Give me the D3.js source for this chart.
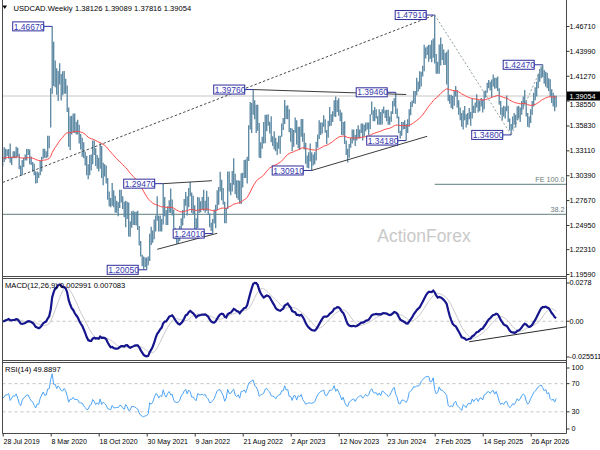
<!DOCTYPE html>
<html>
<head>
<meta charset="utf-8">
<script src="https://cdn.jsdelivr.net/npm/d3@7"></script>
<style>
  body { margin: 0; background: #fff; }
  svg { display: block; }
  text { font-family: "Liberation Sans", Arial, sans-serif; }
</style>
</head>
<body>
<svg id="chart" width="600" height="450"></svg>
<script>
// weekly USDCAD bars, first bar = week of 28 Jul 2019
const highs = [
  1.3240,1.3345,1.3330,1.3320,1.3325,1.3385,1.3240,1.3300,1.3300,1.3350,
  1.3340,1.3275,1.3145,1.3205,1.3230,1.3265,1.3325,1.3325,1.3320,1.3245,
  1.3185,1.3165,1.3080,1.3080,1.3070,1.3200,1.3240,1.3330,1.3330,1.3300,
  1.3470,1.3470,1.3990,1.4667,1.4500,1.4295,1.4210,1.4180,1.4265,1.4145,
  1.4175,1.4180,1.4095,1.4020,1.3780,1.3685,1.3690,1.3715,1.3715,1.3625,
  1.3645,1.3590,1.3490,1.3450,1.3400,1.3295,1.3250,1.3160,1.3260,1.3265,
  1.3420,1.3420,1.3335,1.3260,1.3230,1.3390,1.3360,1.3175,1.3160,1.3145,
  1.3010,1.2860,1.2790,1.2955,1.2875,1.2815,1.2760,1.2745,1.2880,1.2880,
  1.2810,1.2750,1.2760,1.2750,1.2740,1.2535,1.2645,1.2650,1.2640,1.2640,
  1.2650,1.2485,1.2320,1.2170,1.2150,1.2140,1.2140,1.2150,1.2400,1.2475,
  1.2435,1.2555,1.2600,1.2810,1.2595,1.2600,1.2560,1.2947,1.2800,1.2660,
  1.2700,1.2765,1.2895,1.2775,1.2665,1.2465,1.2395,1.2425,1.2485,1.2570,
  1.2660,1.2780,1.2855,1.2810,1.2900,1.2964,1.2850,1.2815,1.2710,1.2570,
  1.2800,1.2795,1.2755,1.2800,1.2880,1.2760,1.2870,1.2805,1.2620,1.2520,
  1.2560,1.2665,1.2715,1.2875,1.2910,1.3076,1.2990,1.2900,1.2750,1.2680,
  1.3080,1.3080,1.2955,1.3085,1.3225,1.3055,1.2985,1.2985,1.2980,1.3060,
  1.3065,1.3205,1.3210,1.3240,1.3585,1.3840,1.3830,1.3976,1.3860,1.3810,
  1.3810,1.3610,1.3400,1.3460,1.3620,1.3700,1.3700,1.3705,1.3625,1.3685,
  1.3465,1.3520,1.3450,1.3400,1.3470,1.3470,1.3605,1.3665,1.3862,1.3800,
  1.3805,1.3760,1.3555,1.3550,1.3535,1.3670,1.3640,1.3570,1.3570,1.3655,
  1.3655,1.3500,1.3395,1.3255,1.3290,1.3385,1.3290,1.3265,1.3290,1.3405,
  1.3485,1.3640,1.3615,1.3615,1.3695,1.3650,1.3535,1.3635,1.3785,1.3705,
  1.3740,1.3860,1.3900,1.3860,1.3880,1.3755,1.3725,1.3620,1.3630,1.3420,
  1.3330,1.3380,1.3445,1.3540,1.3540,1.3480,1.3545,1.3585,1.3540,1.3605,
  1.3605,1.3590,1.3615,1.3615,1.3615,1.3705,1.3846,1.3750,1.3785,1.3760,
  1.3685,1.3760,1.3730,1.3760,1.3790,1.3750,1.3755,1.3755,1.3680,1.3740,
  1.3850,1.3880,1.3946,1.3770,1.3680,1.3525,1.3620,1.3620,1.3640,1.3600,
  1.3650,1.3760,1.3840,1.3855,1.3960,1.3960,1.4105,1.4065,1.4177,1.4170,
  1.4235,1.4467,1.4435,1.4450,1.4465,1.4465,1.4515,1.4535,1.4791,1.4365,
  1.4280,1.4470,1.4545,1.4475,1.4415,1.4375,1.4390,1.4415,1.3920,1.3920,
  1.3905,1.3960,1.4015,1.3970,1.3860,1.3780,1.3720,1.3750,1.3795,1.3705,
  1.3720,1.3775,1.3730,1.3880,1.3800,1.3835,1.3925,1.3860,1.3855,1.3885,
  1.3870,1.3960,1.3965,1.4050,1.4080,1.4060,1.4085,1.4140,1.4105,1.4105,
  1.4120,1.3990,1.3850,1.3780,1.3800,1.3790,1.3910,1.3800,1.3660,1.3600,
  1.3680,1.3720,1.3700,1.3790,1.3800,1.3780,1.3850,1.3900,1.3970,1.3860,
  1.3720,1.3680,1.3760,1.3850,1.3940,1.4000,1.4060,1.4150,1.4200,1.4230,
  1.4247,1.4190,1.4170,1.4160,1.4100,1.4090,1.3980,1.3940,1.3910,1.39089
];
const lows = [
  1.3135,1.3185,1.3210,1.3250,1.3220,1.3175,1.3150,1.3225,1.3225,1.3225,
  1.3240,1.3105,1.3040,1.3040,1.3130,1.3200,1.3200,1.3260,1.3160,1.3150,
  1.3080,1.3040,1.2950,1.2955,1.3010,1.3040,1.3080,1.3220,1.3230,1.3225,
  1.3235,1.3335,1.3560,1.3930,1.4015,1.4000,1.3920,1.3850,1.4030,1.3855,
  1.3915,1.3930,1.3930,1.3730,1.3350,1.3315,1.3485,1.3505,1.3500,1.3485,
  1.3485,1.3385,1.3320,1.3240,1.3225,1.3145,1.3040,1.2995,1.3040,1.3090,
  1.3160,1.3260,1.3140,1.3110,1.3080,1.3110,1.3010,1.2930,1.3025,1.2950,
  1.2770,1.2700,1.2690,1.2705,1.2690,1.2630,1.2630,1.2590,1.2680,1.2740,
  1.2670,1.2580,1.2470,1.2560,1.2370,1.2365,1.2465,1.2495,1.2495,1.2490,
  1.2440,1.2270,1.2150,1.2045,1.2010,1.2035,1.2005,1.2055,1.2100,1.2275,
  1.2300,1.2340,1.2425,1.2540,1.2425,1.2425,1.2425,1.2500,1.2590,1.2495,
  1.2495,1.2630,1.2625,1.2600,1.2460,1.2340,1.2290,1.2290,1.2320,1.2385,
  1.2490,1.2570,1.2705,1.2600,1.2690,1.2810,1.2630,1.2615,1.2450,1.2450,
  1.2460,1.2625,1.2635,1.2665,1.2650,1.2630,1.2650,1.2605,1.2470,1.2430,
  1.2401,1.2510,1.2460,1.2660,1.2715,1.2860,1.2765,1.2720,1.2515,1.2515,
  1.2670,1.2860,1.2820,1.2860,1.2935,1.2830,1.2790,1.2770,1.2730,1.2725,
  1.2905,1.3010,1.3010,1.2950,1.3195,1.3540,1.3500,1.3700,1.3650,1.3500,
  1.3525,1.3230,1.3225,1.3330,1.3385,1.3390,1.3520,1.3580,1.3495,1.3400,
  1.3360,1.3320,1.3300,1.3260,1.3330,1.3275,1.3460,1.3535,1.3600,1.3655,
  1.3650,1.3510,1.3405,1.3300,1.3350,1.3505,1.3375,1.3335,1.3315,1.3460,
  1.3405,1.3320,1.3165,1.3120,1.3115,1.3190,1.3091,1.3145,1.3160,1.3200,
  1.3340,1.3435,1.3480,1.3495,1.3570,1.3505,1.3380,1.3450,1.3575,1.3580,
  1.3620,1.3680,1.3675,1.3730,1.3690,1.3630,1.3480,1.3480,1.3380,1.3260,
  1.3177,1.3230,1.3340,1.3385,1.3420,1.3360,1.3420,1.3440,1.3440,1.3500,
  1.3420,1.3460,1.3520,1.3540,1.3480,1.3545,1.3700,1.3630,1.3630,1.3660,
  1.3590,1.3590,1.3590,1.3595,1.3715,1.3665,1.3630,1.3590,1.3590,1.3625,
  1.3710,1.3790,1.3710,1.3660,1.3500,1.3440,1.3470,1.3540,1.3545,1.3418,
  1.3500,1.3570,1.3695,1.3785,1.3825,1.3820,1.3915,1.3955,1.3980,1.4010,
  1.4120,1.4175,1.4315,1.4355,1.4280,1.4310,1.4275,1.4325,1.4260,1.4150,
  1.4150,1.4150,1.4240,1.4300,1.4245,1.4245,1.4030,1.3850,1.3820,1.3775,
  1.3760,1.3800,1.3900,1.3780,1.3700,1.3640,1.3570,1.3540,1.3640,1.3560,
  1.3590,1.3650,1.3580,1.3660,1.3720,1.3720,1.3780,1.3725,1.3740,1.3790,
  1.3725,1.3760,1.3890,1.3940,1.3990,1.3965,1.3890,1.4010,1.3985,1.3990,
  1.3960,1.3810,1.3700,1.3640,1.3680,1.3660,1.3740,1.3620,1.3530,1.3480,
  1.3540,1.3590,1.3560,1.3640,1.3660,1.3620,1.3700,1.3760,1.3820,1.3680,
  1.3570,1.3560,1.3610,1.3700,1.3790,1.3860,1.3900,1.3990,1.4060,1.4100,
  1.4110,1.4040,1.4010,1.3990,1.3960,1.3900,1.3830,1.3790,1.3740,1.37816
];
const closes = [
  1.3228,1.3242,1.3290,1.3290,1.3315,1.3185,1.3235,1.3280,1.3270,1.3320,
  1.3240,1.3120,1.3060,1.3165,1.3220,1.3240,1.3285,1.3285,1.3220,1.3165,
  1.3145,1.3060,1.2985,1.3055,1.3045,1.3160,1.3235,1.3315,1.3245,1.3250,
  1.3420,1.3430,1.3855,1.4435,1.4090,1.4100,1.3935,1.4135,1.4060,1.3950,
  1.3935,1.4080,1.3990,1.3775,1.3435,1.3585,1.3585,1.3680,1.3560,1.3575,
  1.3560,1.3415,1.3400,1.3390,1.3255,1.3170,1.3045,1.3060,1.3170,1.3195,
  1.3365,1.3280,1.3140,1.3200,1.3125,1.3315,1.3055,1.3140,1.3080,1.2990,
  1.2785,1.2760,1.2725,1.2860,1.2730,1.2730,1.2740,1.2735,1.2795,1.2780,
  1.2690,1.2620,1.2740,1.2650,1.2470,1.2480,1.2575,1.2560,1.2555,1.2505,
  1.2465,1.2285,1.2150,1.2090,1.2055,1.2075,1.2075,1.2110,1.2345,1.2290,
  1.2340,1.2460,1.2595,1.2575,1.2475,1.2545,1.2515,1.2760,1.2610,1.2535,
  1.2680,1.2760,1.2650,1.2670,1.2465,1.2380,1.2375,1.2380,1.2435,1.2575,
  1.2640,1.2760,1.2830,1.2700,1.2860,1.2810,1.2635,1.2640,1.2560,1.2505,
  1.2770,1.2730,1.2725,1.2750,1.2715,1.2745,1.2660,1.2615,1.2490,1.2500,
  1.2545,1.2590,1.2715,1.2840,1.2875,1.2880,1.2810,1.2740,1.2580,1.2670,
  1.2995,1.2870,1.2870,1.2970,1.3045,1.2860,1.2815,1.2880,1.2765,1.3045,
  1.3050,1.3115,1.3030,1.3245,1.3580,1.3675,1.3775,1.3840,1.3660,1.3620,
  1.3525,1.3265,1.3330,1.3370,1.3415,1.3630,1.3670,1.3595,1.3550,1.3410,
  1.3400,1.3385,1.3310,1.3395,1.3440,1.3455,1.3600,1.3600,1.3830,1.3710,
  1.3745,1.3520,1.3515,1.3370,1.3545,1.3550,1.3385,1.3560,1.3515,1.3610,
  1.3415,1.3330,1.3190,1.3220,1.3240,1.3230,1.3220,1.3240,1.3260,1.3365,
  1.3465,1.3535,1.3580,1.3605,1.3635,1.3510,1.3495,1.3580,1.3675,1.3665,
  1.3715,1.3840,1.3715,1.3800,1.3725,1.3640,1.3505,1.3585,1.3410,1.3280,
  1.3245,1.3365,1.3400,1.3440,1.3460,1.3380,1.3460,1.3500,1.3535,1.3545,
  1.3480,1.3525,1.3580,1.3540,1.3570,1.3695,1.3755,1.3680,1.3665,1.3675,
  1.3620,1.3680,1.3625,1.3750,1.3735,1.3695,1.3680,1.3640,1.3660,1.3730,
  1.3815,1.3870,1.3740,1.3670,1.3505,1.3495,1.3575,1.3580,1.3560,1.3520,
  1.3580,1.3755,1.3805,1.3840,1.3945,1.3930,1.3985,1.3980,1.4010,1.4160,
  1.4225,1.4320,1.4385,1.4410,1.4415,1.4335,1.4350,1.4525,1.4300,1.4190,
  1.4230,1.4460,1.4375,1.4375,1.4330,1.4300,1.4240,1.3885,1.3840,1.3860,
  1.3820,1.3930,1.3965,1.3800,1.3740,1.3675,1.3585,1.3735,1.3685,1.3605,
  1.3705,1.3720,1.3690,1.3830,1.3740,1.3810,1.3835,1.3740,1.3830,1.3845,
  1.3780,1.3935,1.3950,1.4030,1.4040,1.4000,1.4070,1.4090,1.4010,1.4090,
  1.3985,1.3830,1.3720,1.3760,1.3700,1.3770,1.3780,1.3640,1.3560,1.3590,
  1.3650,1.3620,1.3680,1.3760,1.3700,1.3750,1.3830,1.3880,1.3850,1.3700,
  1.3600,1.3640,1.3740,1.3820,1.3920,1.3960,1.4040,1.4120,1.4170,1.4200,
  1.4150,1.4080,1.4130,1.4030,1.4070,1.3920,1.3870,1.3900,1.3813,1.39054
];

const startDate = "28 Jul 2019";
const dateTicks = ["28 Jul 2019", "8 Mar 2020", "18 Oct 2020", "30 May 2021", "9 Jan 2022",
  "21 Aug 2022", "2 Apr 2023", "12 Nov 2023", "23 Jun 2024", "2 Feb 2025", "14 Sep 2025", "26 Apr 2026"];
const priceTicks = [1.4671, 1.4399, 1.4127, 1.3855, 1.3583, 1.3311, 1.3039, 1.2767, 1.2495, 1.2231, 1.1959];
const macdTicks = [0.0278, 0, -0.025511];
const rsiTicks = [100, 70, 30, 0];
const rsiLevels = [70, 30];

// swing labels: bar index and price
const labelBars = [33, 96, 107, 140, 167, 206, 262, 269, 288, 339, 360];
const labelPrices = [1.4667, 1.2005, 1.2947, 1.2401, 1.3976, 1.3091, 1.3946, 1.3418, 1.4791, 1.3480, 1.4247];

// trend lines [bar0, price0, bar1, price1]
const channelLine = [[0, 1.2960, 288, 1.4791]];
const swingLines = [[288, 1.4791, 339, 1.3480], [339, 1.3480, 360, 1.4247]];
const triangleLines = [
  [167, 1.3976, 269, 1.3922],
  [206, 1.3091, 283, 1.3465],
  [107, 1.2947, 139.5, 1.2979],
  [103, 1.2229, 143, 1.2404]
];
const fibLevels = [{ name: "FE 100.0", price: 1.2940, from: 288 }, { name: "38.2", price: 1.2612, from: -2 }];
const macdTrend = [311, -0.0135, 376, -0.0036];

const header = ["USDCAD.Weekly", "1.38126 1.39089 1.37816 1.39054"];
const macdHeader = "MACD(12,26,9) 0.002991 0.007083";
const rsiHeader = "RSI(14) 49.8897";
const lastPrice = 1.39054;

// ---- indicators ----
function ema(values, n) {
  const k = 2 / (n + 1);
  const out = [];
  values.forEach((v, i) => out.push(i === 0 ? v : out[i - 1] + k * (v - out[i - 1])));
  return out;
}
function sma(values, n) {
  return values.map((v, i) => d3.mean(values.slice(Math.max(0, i - n + 1), i + 1)));
}
function rsi(values, n) {
  // Wilder smoothing, seeded neutral with the mean move of the first n weeks
  const moves = d3.range(1, n + 1).map(i => Math.abs(values[i] - values[i - 1]));
  let ag = d3.mean(moves) / 2, al = ag;
  const out = [50];
  for (let i = 1; i < values.length; i++) {
    const ch = values[i] - values[i - 1];
    ag = (ag * (n - 1) + Math.max(ch, 0)) / n;
    al = (al * (n - 1) + Math.max(-ch, 0)) / n;
    out.push(al === 0 ? 100 : 100 - 100 / (1 + ag / al));
  }
  return out;
}
const ma55 = ema(closes, 55);
const e12 = ema(closes, 12), e26 = ema(closes, 26);
const macd = e12.map((v, i) => v - e26[i]);
const signal = sma(macd, 9);
const rsi14 = rsi(closes, 14);

// ---- layout ----
const svg = d3.select('#chart');
const left = 2.5, right = 566.5;
const mainBottom = 276.5, macdTop = 278.5, macdBottom = 360.5, rsiTop = 362.5, rsiBottom = 433.5;

const x = d3.scaleLinear().domain([0, 352]).range([2.7, 530.7]);
const y = d3.scaleLinear().domain([1.1959, 1.4671]).range([274, 26]);
const yMacd = d3.scaleLinear().domain([-0.025511, 0.0278]).range([360, 279]);
const yRsi = d3.scaleLinear().domain([0, 100]).range([433, 362.5]);

const defs = svg.append('defs');
function clip(id, y0, y1) {
  defs.append('clipPath').attr('id', id).append('rect')
    .attr('x', left).attr('y', y0).attr('width', right - left).attr('height', y1 - y0);
}
clip('cMain', 0, mainBottom);
clip('cMacd', macdTop, macdBottom);
clip('cRsi', rsiTop, rsiBottom);

const gMain = svg.append('g').attr('clip-path', 'url(#cMain)');
const gMacd = svg.append('g').attr('clip-path', 'url(#cMacd)');
const gRsi = svg.append('g').attr('clip-path', 'url(#cRsi)');

// watermark
gMain.append('text')
  .attr('x', 424).attr('y', 242).attr('text-anchor', 'middle')
  .attr('font-size', 17.5).attr('fill', '#c9c9c9')
  .text('ActionForex');

// horizontal levels
gMain.append('line')
  .attr('x1', left).attr('x2', right).attr('y1', y(lastPrice)).attr('y2', y(lastPrice))
  .attr('stroke', '#c6c6c6').attr('stroke-width', 1);

gMain.selectAll('line.fib').data(fibLevels).join('line')
  .attr('class', 'fib')
  .attr('x1', d => x(d.from)).attr('x2', right)
  .attr('y1', d => y(d.price)).attr('y2', d => y(d.price))
  .attr('stroke', '#7e9898').attr('stroke-width', 1.2);

gMain.selectAll('text.fib').data(fibLevels).join('text')
  .attr('class', 'fib')
  .attr('x', right - 2).attr('y', d => y(d.price) - 2.5)
  .attr('text-anchor', 'end').attr('font-size', 7.2).attr('fill', '#6a7a7a')
  .text(d => d.name);

// bars
const barIdx = d3.range(closes.length);
gMain.selectAll('line.bar').data(barIdx).join('line')
  .attr('class', 'bar')
  .attr('x1', i => x(i)).attr('x2', i => x(i))
  .attr('y1', i => y(highs[i])).attr('y2', i => y(lows[i]))
  .attr('stroke', '#5886a1').attr('stroke-width', 1.3);

// moving average
gMain.append('path')
  .datum(ma55)
  .attr('d', d3.line().x((d, i) => x(i)).y(d => y(d)))
  .attr('fill', 'none').attr('stroke', '#ff4545').attr('stroke-width', 1);

// trend lines
function drawLines(g, data, yScale, stroke, dash, cls) {
  g.selectAll('line.' + cls).data(data).join('line')
    .attr('class', cls)
    .attr('x1', d => x(d[0])).attr('y1', d => yScale(d[1]))
    .attr('x2', d => x(d[2])).attr('y2', d => yScale(d[3]))
    .attr('stroke', stroke).attr('stroke-width', 1)
    .attr('stroke-dasharray', dash);
}
drawLines(gMain, channelLine, y, '#4a4a4a', '2.5,2', 'chan');
drawLines(gMain, swingLines, y, '#8fa0a0', '2,2', 'swing');
drawLines(gMain, triangleLines, y, '#3c3c3c', null, 'tri');

// swing price labels
const labels = labelBars.map((b, k) => ({ bar: b, price: labelPrices[k] }));
const lab = gMain.selectAll('g.lab').data(labels).join('g').attr('class', 'lab');
lab.append('line')
  .attr('x1', d => x(d.bar) - 8).attr('x2', d => x(d.bar))
  .attr('y1', d => y(d.price)).attr('y2', d => y(d.price))
  .attr('stroke', '#2e2e9a');
lab.append('rect')
  .attr('x', d => x(d.bar) - 39.5).attr('y', d => y(d.price) - 4.5)
  .attr('width', 31).attr('height', 9)
  .attr('fill', '#fff').attr('stroke', '#2e2e9a').attr('stroke-width', 1);
lab.append('text')
  .attr('x', d => x(d.bar) - 38.5).attr('y', d => y(d.price) + 3.2)
  .attr('font-size', 8.5).attr('fill', '#3a3ab0')
  .text(d => d3.format('.5f')(d.price));

// header
svg.append('path').attr('d', 'M2.5,5.5 L7,5.5 L4.75,9 Z').attr('fill', '#000');
svg.append('text').attr('x', 13.5).attr('y', 10.5).attr('font-size', 7.6).text(header[0]);
svg.append('text').attr('x', 75).attr('y', 10.5).attr('font-size', 7.6).text(header[1]);

// ---- MACD panel ----
gMacd.append('line')
  .attr('x1', left).attr('x2', right).attr('y1', yMacd(0)).attr('y2', yMacd(0))
  .attr('stroke', '#c4c4c4').attr('stroke-dasharray', '3,3');
gMacd.append('path').datum(signal)
  .attr('d', d3.line().x((d, i) => x(i)).y(d => yMacd(d)))
  .attr('fill', 'none').attr('stroke', '#c9c9c9').attr('stroke-width', 1);
gMacd.append('path').datum(macd)
  .attr('d', d3.line().x((d, i) => x(i)).y(d => yMacd(d)))
  .attr('fill', 'none').attr('stroke', '#15158c').attr('stroke-width', 2.2);
drawLines(gMacd, [macdTrend], yMacd, '#2a2a2a', null, 'mtrend');
svg.append('text').attr('x', 5).attr('y', 288).attr('font-size', 7.6).text(macdHeader);

// ---- RSI panel ----
gRsi.selectAll('line.lvl').data(rsiLevels).join('line')
  .attr('class', 'lvl')
  .attr('x1', left).attr('x2', right).attr('y1', d => yRsi(d)).attr('y2', d => yRsi(d))
  .attr('stroke', '#c4c4c4').attr('stroke-dasharray', '3,3');
gRsi.append('path').datum(rsi14)
  .attr('d', d3.line().x((d, i) => x(i)).y(d => yRsi(d)))
  .attr('fill', 'none').attr('stroke', '#4ea4f4').attr('stroke-width', 1);
svg.append('text').attr('x', 5).attr('y', 372).attr('font-size', 7.6).text(rsiHeader);

// ---- frames ----
const frame = svg.append('g').attr('fill', 'none').attr('stroke', '#4a4a4a').attr('stroke-width', 1);
frame.append('line').attr('x1', left).attr('x2', left).attr('y1', 0).attr('y2', rsiBottom);
frame.append('line').attr('x1', right).attr('x2', right).attr('y1', 0).attr('y2', rsiBottom);
[mainBottom, macdTop, macdBottom, rsiTop, rsiBottom].forEach(v => {
  frame.append('line').attr('x1', left).attr('x2', right).attr('y1', v).attr('y2', v);
});

// ---- axes ----
function styleAxis(g, size) {
  g.select('.domain').remove();
  g.selectAll('.tick line').attr('stroke', '#333');
  g.selectAll('text').attr('font-size', size).attr('fill', '#000')
    .attr('font-family', '"Liberation Sans", Arial, sans-serif');
}
const axPrice = svg.append('g').attr('transform', `translate(${right},0)`)
  .call(d3.axisRight(y).tickValues(priceTicks).tickSize(3).tickPadding(0).tickFormat(d3.format('.5f')));
styleAxis(axPrice, 7.2);
// the label hidden behind the price tag only peeks out below it
axPrice.selectAll('.tick text').filter(d => Math.abs(y(d) - y(lastPrice)) < 8)
  .attr('y', y(lastPrice) + 8.2 - y(1.3855));

const clampTick = (scale, lo, hi) => d => `translate(0,${Math.min(Math.max(scale(d), lo), hi)})`;
const axMacd = svg.append('g').attr('transform', `translate(${right},0)`)
  .call(d3.axisRight(yMacd).tickValues(macdTicks).tickSize(3).tickPadding(0)
    .tickFormat(d => d === 0 ? '0.00' : String(d)));
axMacd.selectAll('.tick').attr('transform', clampTick(yMacd, 283, 357));
styleAxis(axMacd, 7.2);

const axRsi = svg.append('g').attr('transform', `translate(${right},0)`)
  .call(d3.axisRight(yRsi).tickValues(rsiTicks).tickSize(3).tickPadding(2));
axRsi.selectAll('.tick').attr('transform', clampTick(yRsi, 368, 429));
styleAxis(axRsi, 7.2);

// current price tag
svg.append('rect').attr('x', right + 0.5).attr('y', y(lastPrice) - 4.5)
  .attr('width', 600 - right).attr('height', 9).attr('fill', '#000');
svg.append('text').attr('x', right + 3).attr('y', y(lastPrice) + 2.7)
  .attr('font-size', 7.2).attr('fill', '#fff').text(d3.format('.5f')(lastPrice));

// date axis
const parseDay = d3.timeParse('%d %b %Y');
const t0 = parseDay(startDate);
const tickIdx = dateTicks.map(s => Math.round((parseDay(s) - t0) / (7 * 864e5)));
const axDate = svg.append('g').attr('transform', `translate(0,${rsiBottom})`)
  .call(d3.axisBottom(x).tickValues(tickIdx).tickSize(3).tickPadding(2.5)
    .tickFormat((d, k) => dateTicks[k]));
styleAxis(axDate, 7);
axDate.selectAll('text').attr('text-anchor', 'start').attr('dx', 0.3);
</script>
</body>
</html>
